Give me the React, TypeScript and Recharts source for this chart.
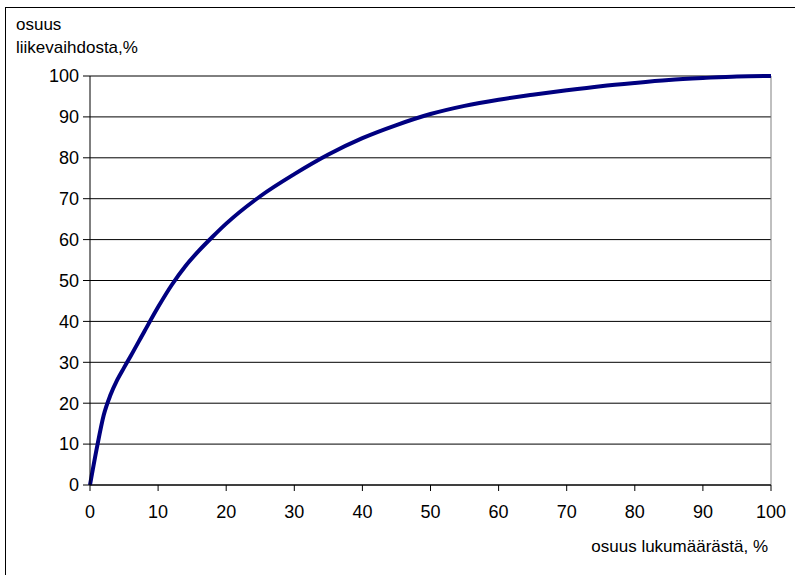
import type React from 'react';
import { CartesianGrid, LineChart, Line, XAxis, YAxis, ReferenceLine } from 'recharts';

// share of count (%) vs share of turnover (%)
const shareOfCount = [0, 1, 2, 3, 4, 5, 6, 8, 10, 12, 14, 16, 18, 20, 25, 30, 35, 40, 45, 50, 55, 60, 65, 70, 75, 80, 85, 90, 95, 100];
const shareOfTurnover = [
  0, 9, 17, 22, 25.7, 28.7, 31.6, 37.6, 43.5, 48.9, 53.5, 57.3, 60.7, 63.9, 70.6, 76, 80.8, 84.8, 88, 90.7, 92.7, 94.2, 95.4,
  96.5, 97.5, 98.3, 99, 99.5, 99.9, 100,
];
const xTicks = [0, 10, 20, 30, 40, 50, 60, 70, 80, 90, 100];
const yTicks = [0, 10, 20, 30, 40, 50, 60, 70, 80, 90, 100];

const chartData = shareOfCount.map((p, i) => ({ p, v: shareOfTurnover[i] }));

const font = '"Liberation Sans", Arial, sans-serif';
const tickStyle = { fill: '#000', fontSize: 18, fontFamily: font };

export default function App(): React.JSX.Element {
  return (
    <div style={{ position: 'absolute', left: 0, top: 0, width: 795, height: 575, background: '#fff', overflow: 'hidden' }}>
      <div
        style={{
          position: 'absolute',
          left: 5,
          top: 7,
          width: 790,
          height: 568,
          borderLeft: '1px solid #000',
          borderTop: '1px solid #000',
          boxSizing: 'border-box',
        }}
      />
      <LineChart
        width={795}
        height={575}
        data={chartData}
        margin={{ top: 76, right: 24, bottom: 60, left: 0 }}
        style={{ position: 'absolute', left: 0, top: 0 }}
      >
        <CartesianGrid vertical={false} stroke='#000' strokeWidth={1} />
        <XAxis
          dataKey='p'
          type='number'
          domain={[0, 100]}
          ticks={xTicks}
          height={30}
          axisLine={{ stroke: '#000' }}
          tickLine={{ stroke: '#000' }}
          tickSize={6}
          tickMargin={14}
          tick={tickStyle}
        />
        <YAxis
          type='number'
          domain={[0, 100]}
          ticks={yTicks}
          width={90}
          axisLine={{ stroke: '#000' }}
          tickLine={{ stroke: '#000' }}
          tickSize={7}
          tickMargin={4}
          tick={tickStyle}
        />
        <ReferenceLine y={100} stroke='#808080' />
        <ReferenceLine x={100} stroke='#808080' />
        <Line
          type='monotone'
          dataKey='v'
          stroke='#000080'
          strokeWidth={4}
          dot={false}
          isAnimationActive={false}
        />
      </LineChart>
      <div style={{ position: 'absolute', left: 16, top: 13, fontFamily: font, fontSize: 17, lineHeight: '23px', color: '#000' }}>
        osuus
        <br />
        liikevaihdosta,%
      </div>
      <div
        style={{
          position: 'absolute',
          right: 795 - 768,
          top: 537,
          fontFamily: font,
          fontSize: 17,
          lineHeight: '20px',
          color: '#000',
          whiteSpace: 'nowrap',
        }}
      >
        osuus lukumäärästä, %
      </div>
    </div>
  );
}
